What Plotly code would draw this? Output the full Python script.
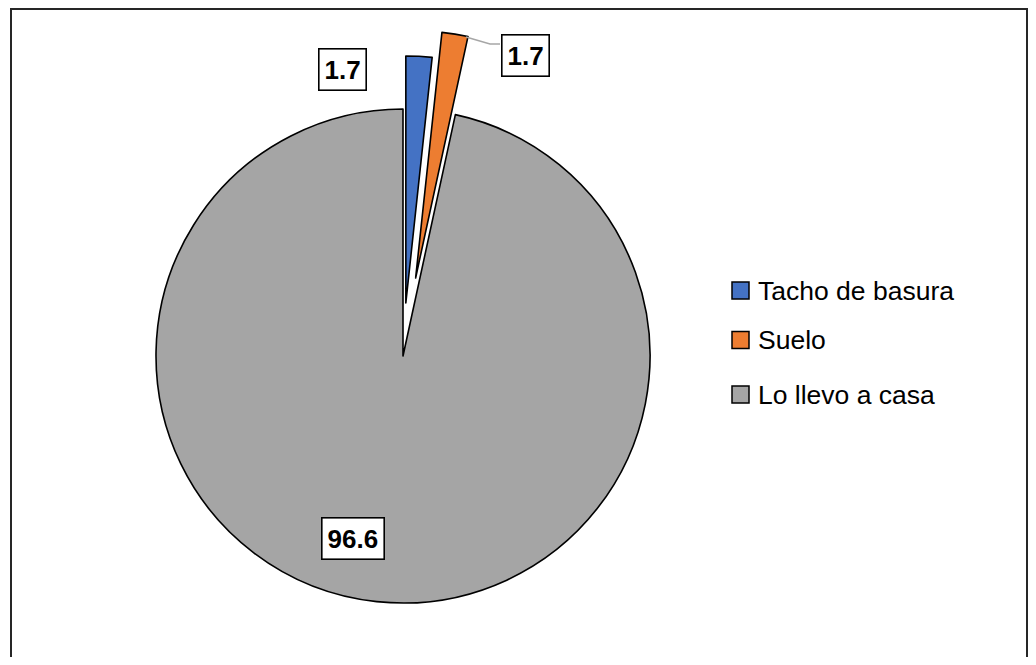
import math
import plotly.graph_objects as go

# ---- data ----
labels = ["Tacho de basura", "Suelo", "Lo llevo a casa"]
values = [1.7, 1.7, 96.6]
pulls = [0.215, 0.32, 0.0]          # explosion of each slice (fraction of radius)
colors = ["#4472C4", "#ED7D31", "#A5A5A5"]

# ---- layout geometry (page pixels; the plot div sits 8px inside the page) ----
OFF = 8
W, H = 1036 - 2 * OFF, 665 - 2 * OFF
CX, CY, R = 403, 356, 247

def px(x):
    return (x - OFF) / W

def py(y):
    return 1 - (y - OFF) / H

total = sum(values)
fig = go.Figure()
start = 0.0
for i, (lab, val) in enumerate(zip(labels, values)):
    mid = (start + val / 2) / total * 2 * math.pi
    start += val
    off = pulls[i] * R
    cx = CX + off * math.sin(mid)
    cy = CY - off * math.cos(mid)
    slice_colors = ["rgba(0,0,0,0)"] * len(values)
    line_colors = ["rgba(0,0,0,0)"] * len(values)
    slice_colors[i] = colors[i]
    line_colors[i] = "black"
    fig.add_trace(go.Pie(
        labels=labels, values=values, sort=False, direction="clockwise",
        rotation=0, textinfo="none", hoverinfo="label+value",
        marker=dict(colors=slice_colors, line=dict(color=line_colors, width=1.6)),
        domain=dict(x=[px(cx - R), px(cx + R)], y=[py(cy + R), py(cy - R)]),
        showlegend=False,
    ))

# data labels (boxed)
label_pos = [(342.5, 69.5), (525.5, 56), (353, 538)]
for val, (lx, ly) in zip(values, label_pos):
    fig.add_annotation(
        x=px(lx), y=py(ly), xref="paper", yref="paper", showarrow=False,
        text=f"<b>{val}</b>", xanchor="center", yanchor="middle",
        font=dict(family="Liberation Sans Narrow, Arial Narrow, Liberation Sans, Arial", size=26, color="black"),
        bgcolor="white", bordercolor="black", borderwidth=1.6, borderpad=5,
    )

# leader line for the "Suelo" label
fig.add_shape(type="path", xref="paper", yref="paper",
              path=f"M {px(466)},{py(37)} L {px(490)},{py(44)} L {px(500)},{py(44)}",
              line=dict(color="#A6A6A6", width=1.5))

# custom legend
leg_y = [290.5, 340, 394.5]
for lab, col, ly in zip(labels, colors, leg_y):
    fig.add_shape(type="rect", xref="paper", yref="paper",
                  x0=px(732), x1=px(749), y0=py(ly + 8.5), y1=py(ly - 8.5),
                  fillcolor=col, line=dict(color="black", width=1.5))
    fig.add_annotation(x=px(756), y=py(ly), xref="paper", yref="paper", showarrow=False,
                       text=lab, xanchor="left", yanchor="middle",
                       font=dict(family="Liberation Sans, Arial", size=26.5, color="black"))

# chart frame
fig.add_shape(type="rect", xref="paper", yref="paper",
              x0=px(11), x1=px(1027), y0=-0.05, y1=py(9),
              line=dict(color="#262626", width=2), fillcolor="rgba(0,0,0,0)")

fig.update_layout(
    margin=dict(l=0, r=0, t=0, b=0),
    paper_bgcolor="white", plot_bgcolor="white",
    showlegend=False,
)

fig.write_html("out.html")
